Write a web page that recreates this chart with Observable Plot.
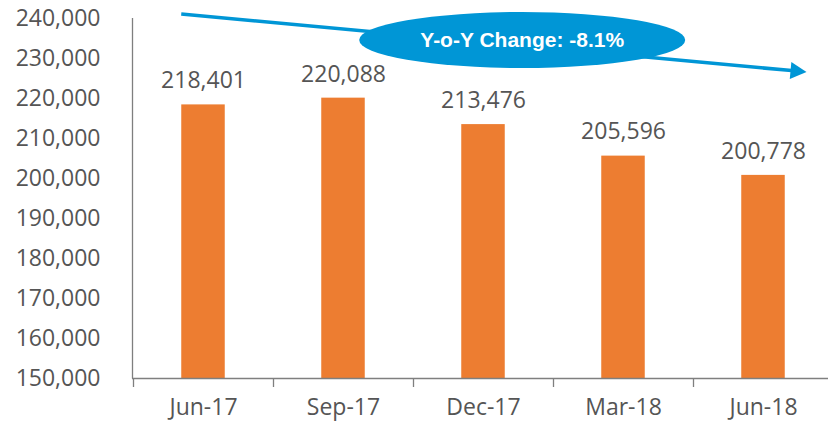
<!DOCTYPE html>
<html><head><meta charset="utf-8">
<script src="https://cdn.jsdelivr.net/npm/d3@7"></script>
<script src="https://cdn.jsdelivr.net/npm/@observablehq/plot@0.6"></script>
<style>html,body{margin:0;padding:0;background:#fff;overflow:hidden}</style>
</head><body><div id="chart"></div>
<script>
// ---- data ----
const categories = ["Jun-17", "Sep-17", "Dec-17", "Mar-18", "Jun-18"];
const values = [218401, 220088, 213476, 205596, 200778];
const yTicks = [150000, 160000, 170000, 180000, 190000, 200000, 210000, 220000, 230000, 240000];
const yoyLabel = "Y-o-Y Change: -8.1%";
// annotation anchors in data space
const arrowStart = {category: "Jun-17", barOffset: -0.5, value: 241000};
const arrowEnd = {category: "Jun-18", barOffset: 1.0, value: 226500};
const bubble = {category: "Dec-17", stepOffset: 0.28, value: 234500};

const data = categories.map((c, i) => ({category: c, value: values[i]}));
const BAR_INSET = 48.25;
const fmt = d3.format(",");

const plot = Plot.plot({
  width: 828, height: 422,
  marginLeft: 132, marginRight: 0, marginTop: 18, marginBottom: 44,
  style: {fontFamily: "'Open Sans', sans-serif", fontSize: "23px", color: "#555555", background: "#fff", overflow: "visible"},
  x: {type: "band", domain: categories, range: [132, 834.5], padding: 0, label: null},
  y: {domain: [150000, 240000], label: null},
  marks: [
    Plot.barY(data, {x: "category", y1: 150000, y2: "value", fill: "#ED7D31", insetLeft: BAR_INSET, insetRight: BAR_INSET}),
    Plot.text(data, {x: "category", y: "value", text: d => fmt(d.value), dy: -24, fill: "#555555"}),
    Plot.axisY({ticks: yTicks, tickSize: 0, tickPadding: 32, tickFormat: fmt, fill: "#555555", label: null}),
    Plot.axisX({tickSize: 0, tickPadding: 20, fill: "#555555", label: null})
  ]
});
document.getElementById("chart").appendChild(plot);

// ---- axis lines, boundary ticks, annotation (positioned via Plot scales) ----
const sx = plot.scale("x"), sy = plot.scale("y");
const bw = sx.bandwidth, step = sx.step || bw;
const barW = bw - 2 * BAR_INSET;
const center = c => sx.apply(c) + bw / 2;
const y0 = sy.apply(150000), yTop = sy.apply(240000);
const svg = d3.select(plot);
const g = svg.append("g");
const axisColor = "#7f7f7f";
g.append("line").attr("x1", 132.5).attr("x2", 132.5).attr("y1", yTop).attr("y2", y0 + 0.5)
  .attr("stroke", axisColor).attr("stroke-width", 1.3);
g.append("line").attr("x1", 132).attr("x2", 828).attr("y1", y0 + 0.5).attr("y2", y0 + 0.5)
  .attr("stroke", axisColor).attr("stroke-width", 1.3);
categories.forEach(c => {
  const xb = Math.round(sx.apply(c)) + 0.5;
  g.append("line").attr("x1", xb).attr("x2", xb).attr("y1", y0).attr("y2", y0 + 9)
    .attr("stroke", axisColor).attr("stroke-width", 1.3);
});

const blue = "#0096D6";
const ax1 = center(arrowStart.category) + arrowStart.barOffset * barW, ay1 = sy.apply(arrowStart.value);
const ax2 = center(arrowEnd.category) + arrowEnd.barOffset * barW, ay2 = sy.apply(arrowEnd.value);
const ang = Math.atan2(ay2 - ay1, ax2 - ax1);
const headLen = 16, headHalf = 8.5;
const bx = ax2 - headLen * Math.cos(ang), by = ay2 - headLen * Math.sin(ang);
g.append("line").attr("x1", ax1).attr("y1", ay1).attr("x2", bx + Math.cos(ang)).attr("y2", by + Math.sin(ang))
  .attr("stroke", blue).attr("stroke-width", 3.5);
g.append("polygon").attr("points", [
  [ax2, ay2],
  [bx - headHalf * Math.sin(ang), by + headHalf * Math.cos(ang)],
  [bx + headHalf * Math.sin(ang), by - headHalf * Math.cos(ang)]
].map(p => p.join(",")).join(" ")).attr("fill", blue);

const ecx = center(bubble.category) + bubble.stepOffset * step, ecy = sy.apply(bubble.value);
g.append("ellipse").attr("cx", ecx).attr("cy", ecy).attr("rx", 163).attr("ry", 28).attr("fill", blue);
g.append("text").attr("x", ecx).attr("y", ecy).attr("dy", "0.35em").attr("text-anchor", "middle")
  .attr("fill", "#fff").attr("font-family", "'Liberation Sans', Arial, sans-serif")
  .attr("font-weight", "bold").attr("font-size", "21px").text(yoyLabel);
</script>
</body></html>
